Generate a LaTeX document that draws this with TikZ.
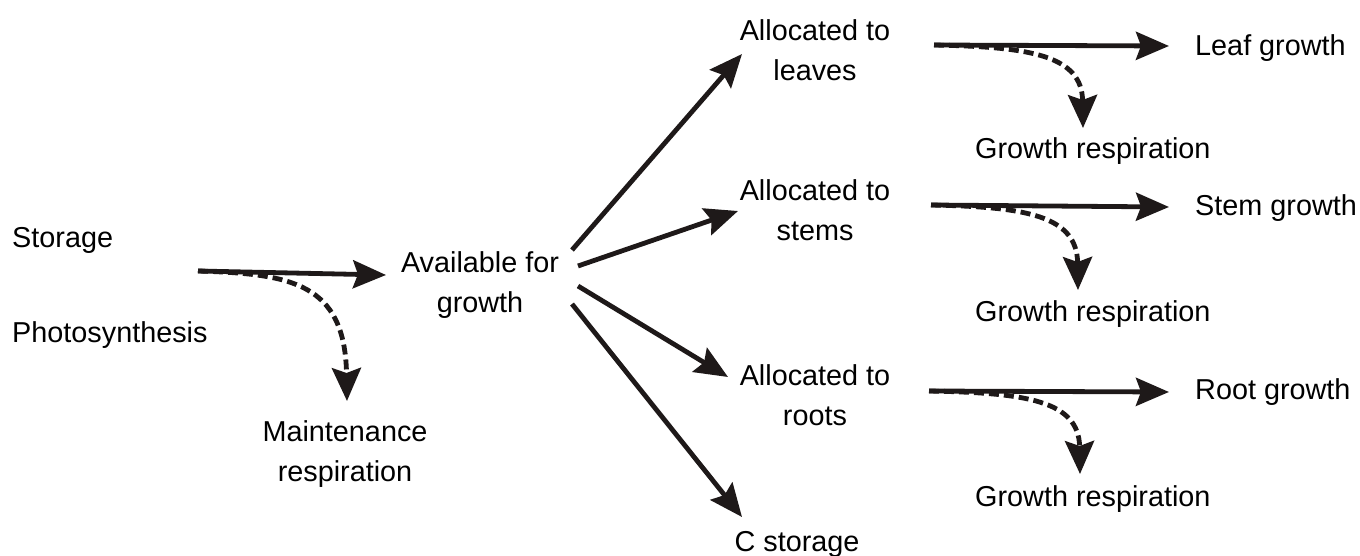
\documentclass[tikz,border=0pt]{standalone}
\usepackage{fontspec}
\setmainfont{Liberation Sans}
\usetikzlibrary{arrows.meta}
\begin{document}
\begin{tikzpicture}[x=1pt,y=-1pt,
  lbl/.style={font=\fontsize{28.8}{40}\selectfont, align=center, inner sep=0pt},
  lbll/.style={lbl, anchor=west},
  flow/.style={line width=4.8pt, draw={rgb,255:red,30;green,25;blue,25}, -{Stealth[length=33pt,width=28pt,inset=5pt]}},
  resp/.style={line width=4.8pt, draw={rgb,255:red,30;green,25;blue,25}, dash pattern=on 10pt off 5pt, -{Stealth[length=33pt,width=29pt,inset=5pt]}}]
\useasboundingbox (0,0) rectangle (1360,556);
% labels
\node[lbll] (sto) at (12,240) {Storage};
\node[lbll] (pho) at (12,335) {Photosynthesis};
\node[lbl] (mr) at (345,454) {Maintenance\\respiration};
\node[lbl] (av) at (480,285) {Available for\\growth};
\node[lbl] (al) at (815,50) {Allocated to\\leaves};
\node[lbl] (as) at (815,210) {Allocated to\\stems};
\node[lbl] (ar) at (815,395) {Allocated to\\roots};
\node[lbl] (cs) at (797,544) {C storage};
\node[lbll] (lg) at (1195,48) {Leaf growth};
\node[lbll] (sg) at (1195,208) {Stem growth};
\node[lbll] (rg) at (1195,392) {Root growth};
\node[lbll] (gr1) at (975,151) {Growth respiration};
\node[lbll] (gr2) at (975,314) {Growth respiration};
\node[lbll] (gr3) at (975,499) {Growth respiration};
% coordinates
\coordinate (s0) at (198,271);
\coordinate (s1) at (386,275);
\coordinate (m1) at (347,401);
\coordinate (a1) at (572,250); \coordinate (t1) at (742,54);
\coordinate (a2) at (578,266); \coordinate (t2) at (738,211);
\coordinate (a3) at (578,286); \coordinate (t3) at (728,377);
\coordinate (a4) at (572,304); \coordinate (t4) at (742,517);
\coordinate (l0) at (934,45); \coordinate (l1) at (1169,46); \coordinate (l2) at (1083,128);
\coordinate (st0) at (931,205); \coordinate (st1) at (1169,207); \coordinate (st2) at (1078,290);
\coordinate (r0) at (929,391); \coordinate (r1) at (1169,392); \coordinate (r2) at (1080,474);
% arrows
\draw[flow] (s0) -- (s1);
\draw[resp] (s0) .. controls (290,274) and (345,282) .. (m1);
\draw[flow] (a1) -- (t1);
\draw[flow] (a2) -- (t2);
\draw[flow] (a3) -- (t3);
\draw[flow] (a4) -- (t4);
\draw[flow] (l0) -- (l1);
\draw[resp] (l0) .. controls (1030,47) and (1082,55) .. (l2);
\draw[flow] (st0) -- (st1);
\draw[resp] (st0) .. controls (1025,207) and (1077,215) .. (st2);
\draw[flow] (r0) -- (r1);
\draw[resp] (r0) .. controls (1025,393) and (1079,400) .. (r2);
\end{tikzpicture}
\end{document}
